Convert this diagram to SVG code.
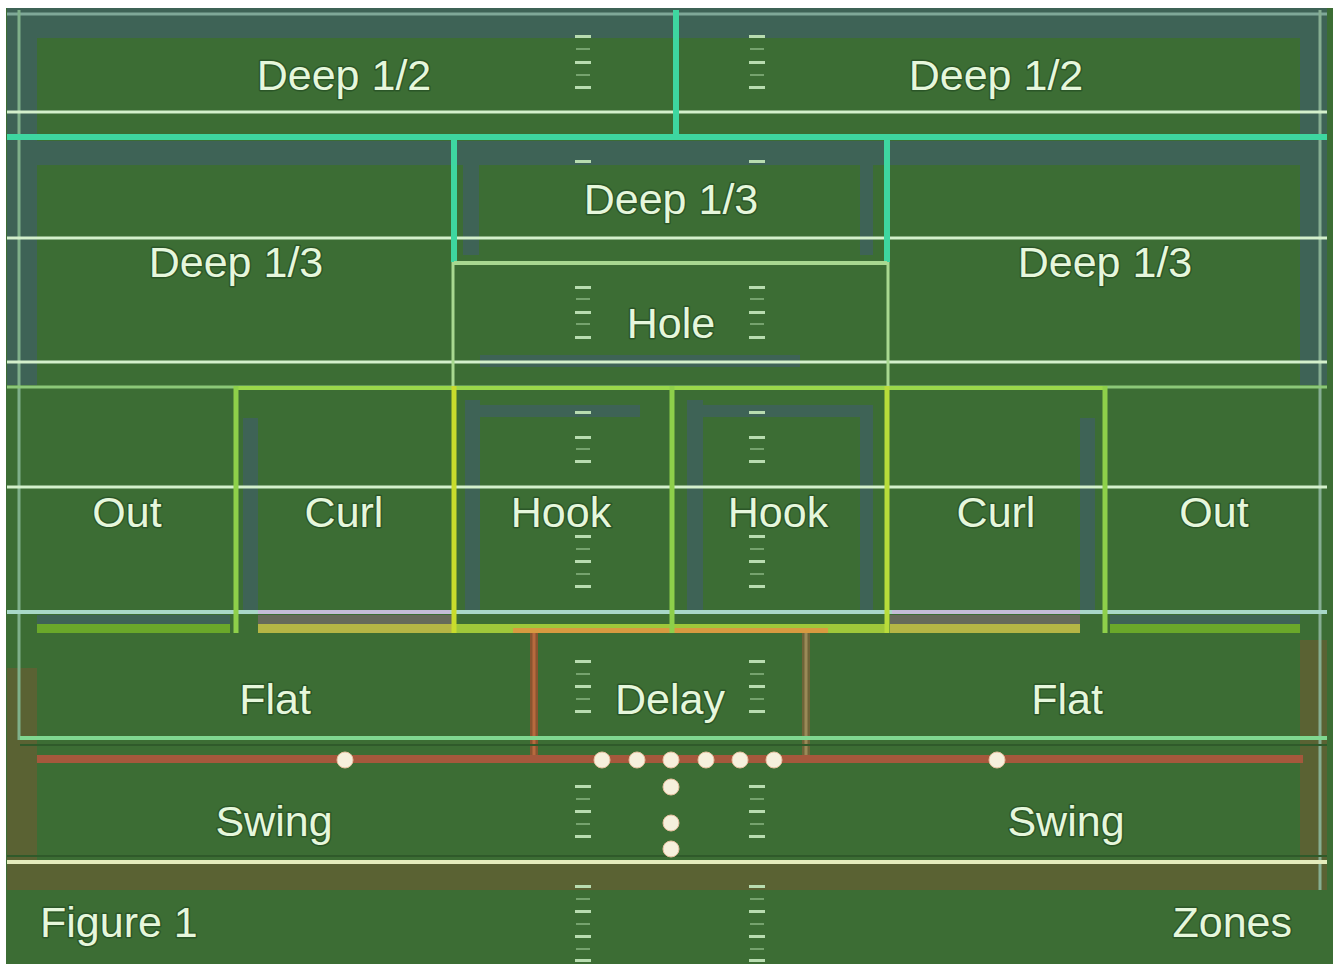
<svg xmlns="http://www.w3.org/2000/svg" width="1333" height="964" viewBox="0 0 1333 964">
<style>
text{font-family:"Liberation Sans",Arial,sans-serif;font-size:43px;fill:#e6f7dc;stroke:#2b5628;stroke-width:3px;paint-order:stroke;stroke-linejoin:round}
.slate{fill:#3e6356}
.olive{fill:#5a6233}
.yard{stroke:#d4f0cc;stroke-width:3;fill:none}
.teal{stroke:#3ed6a0;stroke-width:6;fill:none}
.hash{fill:#b8dcb0}
.minor{fill:#9cc896;opacity:.6}
.pl{fill:#f6f0dc;stroke:#e8c0a0;stroke-width:1}
</style>
<rect width="1333" height="964" fill="#ffffff"/>
<rect x="6" y="8" width="1327" height="956" fill="#3c6d34"/>

<g id="bands">
<rect class="slate" x="7" y="8" width="1320" height="30"/>
<rect class="slate" x="7" y="8" width="30" height="377"/>
<rect class="slate" x="1300" y="8" width="27" height="377"/>
<rect class="slate" x="7" y="141" width="1320" height="24"/>
<rect class="slate" x="463" y="141" width="16" height="114"/>
<rect class="slate" x="860" y="141" width="13" height="114"/>
<rect class="slate" x="480" y="355" width="320" height="12"/>
<rect class="slate" x="243" y="418" width="15" height="194"/>
<rect class="slate" x="465" y="400" width="15" height="212"/>
<rect class="slate" x="480" y="405" width="160" height="12"/>
<rect class="slate" x="687" y="400" width="16" height="212"/>
<rect class="slate" x="703" y="405" width="157" height="12"/>
<rect class="slate" x="860" y="405" width="13" height="207"/>
<rect class="slate" x="1080" y="418" width="15" height="194"/>
<rect class="olive" x="7" y="668" width="30" height="222"/>
<rect class="olive" x="1300" y="640" width="27" height="250"/>
<rect class="olive" x="7" y="864" width="1320" height="26"/>
</g>

<g id="hashes">
<rect class="hash" x="575" y="35" width="16" height="3"/><rect class="hash" x="749" y="35" width="16" height="3"/>
<rect class="hash" x="575" y="61" width="16" height="3"/><rect class="hash" x="749" y="61" width="16" height="3"/>
<rect class="hash" x="575" y="86" width="16" height="3"/><rect class="hash" x="749" y="86" width="16" height="3"/>
<rect class="hash" x="575" y="160" width="16" height="3"/><rect class="hash" x="749" y="160" width="16" height="3"/>
<rect class="hash" x="575" y="286" width="16" height="3"/><rect class="hash" x="749" y="286" width="16" height="3"/>
<rect class="hash" x="575" y="311" width="16" height="3"/><rect class="hash" x="749" y="311" width="16" height="3"/>
<rect class="hash" x="575" y="336" width="16" height="3"/><rect class="hash" x="749" y="336" width="16" height="3"/>
<rect class="hash" x="575" y="411" width="16" height="3"/><rect class="hash" x="749" y="411" width="16" height="3"/>
<rect class="hash" x="575" y="436" width="16" height="3"/><rect class="hash" x="749" y="436" width="16" height="3"/>
<rect class="hash" x="575" y="460" width="16" height="3"/><rect class="hash" x="749" y="460" width="16" height="3"/>
<rect class="hash" x="575" y="535" width="16" height="3"/><rect class="hash" x="749" y="535" width="16" height="3"/>
<rect class="hash" x="575" y="560" width="16" height="3"/><rect class="hash" x="749" y="560" width="16" height="3"/>
<rect class="hash" x="575" y="585" width="16" height="3"/><rect class="hash" x="749" y="585" width="16" height="3"/>
<rect class="hash" x="575" y="660" width="16" height="3"/><rect class="hash" x="749" y="660" width="16" height="3"/>
<rect class="hash" x="575" y="685" width="16" height="3"/><rect class="hash" x="749" y="685" width="16" height="3"/>
<rect class="hash" x="575" y="710" width="16" height="3"/><rect class="hash" x="749" y="710" width="16" height="3"/>
<rect class="hash" x="575" y="785" width="16" height="3"/><rect class="hash" x="749" y="785" width="16" height="3"/>
<rect class="hash" x="575" y="810" width="16" height="3"/><rect class="hash" x="749" y="810" width="16" height="3"/>
<rect class="hash" x="575" y="835" width="16" height="3"/><rect class="hash" x="749" y="835" width="16" height="3"/>
<rect class="hash" x="575" y="885" width="16" height="3"/><rect class="hash" x="749" y="885" width="16" height="3"/>
<rect class="hash" x="575" y="910" width="16" height="3"/><rect class="hash" x="749" y="910" width="16" height="3"/>
<rect class="hash" x="575" y="935" width="16" height="3"/><rect class="hash" x="749" y="935" width="16" height="3"/>
<rect class="hash" x="575" y="959" width="16" height="3"/><rect class="hash" x="749" y="959" width="16" height="3"/>
<rect class="minor" x="576" y="48" width="14" height="2"/><rect class="minor" x="750" y="48" width="14" height="2"/>
<rect class="minor" x="576" y="74" width="14" height="2"/><rect class="minor" x="750" y="74" width="14" height="2"/>
<rect class="minor" x="576" y="298" width="14" height="2"/><rect class="minor" x="750" y="298" width="14" height="2"/>
<rect class="minor" x="576" y="323" width="14" height="2"/><rect class="minor" x="750" y="323" width="14" height="2"/>
<rect class="minor" x="576" y="448" width="14" height="2"/><rect class="minor" x="750" y="448" width="14" height="2"/>
<rect class="minor" x="576" y="548" width="14" height="2"/><rect class="minor" x="750" y="548" width="14" height="2"/>
<rect class="minor" x="576" y="573" width="14" height="2"/><rect class="minor" x="750" y="573" width="14" height="2"/>
<rect class="minor" x="576" y="673" width="14" height="2"/><rect class="minor" x="750" y="673" width="14" height="2"/>
<rect class="minor" x="576" y="698" width="14" height="2"/><rect class="minor" x="750" y="698" width="14" height="2"/>
<rect class="minor" x="576" y="798" width="14" height="2"/><rect class="minor" x="750" y="798" width="14" height="2"/>
<rect class="minor" x="576" y="823" width="14" height="2"/><rect class="minor" x="750" y="823" width="14" height="2"/>
<rect class="minor" x="576" y="898" width="14" height="2"/><rect class="minor" x="750" y="898" width="14" height="2"/>
<rect class="minor" x="576" y="923" width="14" height="2"/><rect class="minor" x="750" y="923" width="14" height="2"/>
<rect class="minor" x="576" y="948" width="14" height="2"/><rect class="minor" x="750" y="948" width="14" height="2"/>
</g>

<g id="connectors">
<line x1="7" y1="14" x2="1327" y2="14" stroke="#7fa898" stroke-width="3"/>
<line x1="19" y1="10" x2="19" y2="740" stroke="#7fb08a" stroke-width="3"/>
<line x1="1320" y1="10" x2="1320" y2="890" stroke="#86ae92" stroke-width="3"/>
<line class="yard" x1="7" y1="112" x2="1327" y2="112"/>
<line class="yard" x1="7" y1="238" x2="1327" y2="238"/>
<line class="yard" x1="7" y1="362" x2="1327" y2="362"/>
<line class="yard" x1="7" y1="487" x2="1327" y2="487" stroke="#b8e6a8"/>
<line x1="7" y1="387" x2="1327" y2="387" stroke="#8cc878" stroke-width="3"/>
<line class="teal" x1="676" y1="10" x2="676" y2="137"/>
<line class="teal" x1="7" y1="137" x2="1327" y2="137"/>
<line class="teal" x1="454" y1="137" x2="454" y2="262"/>
<line class="teal" x1="887" y1="137" x2="887" y2="262"/>
<line x1="454" y1="263" x2="887" y2="263" stroke="#a8d890" stroke-width="4"/>
<line x1="453" y1="262" x2="453" y2="387" stroke="#a8d890" stroke-width="3"/>
<line x1="888" y1="262" x2="888" y2="387" stroke="#a8d890" stroke-width="3"/>
<line x1="236" y1="388" x2="1105" y2="388" stroke="#9ad84a" stroke-width="4"/>
<line x1="7" y1="612" x2="1327" y2="612" stroke="#a8d8c8" stroke-width="4"/>
<line x1="258" y1="612" x2="450" y2="612" stroke="#c4bcd8" stroke-width="4"/>
<line x1="892" y1="612" x2="1080" y2="612" stroke="#c4bcd8" stroke-width="4"/>
<rect x="37" y="615" width="193" height="9" fill="#3e6356"/>
<rect x="258" y="615" width="195" height="9" fill="#66695a"/>
<rect x="890" y="615" width="190" height="9" fill="#66695a"/>
<rect x="1110" y="615" width="190" height="9" fill="#3e6356"/>
<rect x="37" y="624" width="193" height="9" fill="#6aa82a"/>
<rect x="258" y="624" width="195" height="9" fill="#b5b545"/>
<rect x="455" y="624" width="432" height="9" fill="#9fc83a"/>
<rect x="890" y="624" width="190" height="9" fill="#b5b545"/>
<rect x="1110" y="624" width="190" height="9" fill="#6aa82a"/>
<rect x="513" y="628" width="315" height="5" fill="#d89a40"/>
<line x1="236" y1="386" x2="236" y2="633" stroke="#8ed04a" stroke-width="5"/>
<line x1="454" y1="386" x2="454" y2="633" stroke="#c8dc2c" stroke-width="5"/>
<line x1="672" y1="386" x2="672" y2="633" stroke="#8ed04a" stroke-width="5"/>
<line x1="887" y1="386" x2="887" y2="633" stroke="#b8dc3a" stroke-width="5"/>
<line x1="1105" y1="386" x2="1105" y2="633" stroke="#8ed04a" stroke-width="5"/>
<line x1="534" y1="633" x2="534" y2="762" stroke="#8a5530" stroke-width="8"/>
<line x1="534" y1="633" x2="534" y2="762" stroke="#b86a3e" stroke-width="3"/>
<line x1="806" y1="633" x2="806" y2="762" stroke="#6e6438" stroke-width="8"/>
<line x1="806" y1="633" x2="806" y2="762" stroke="#9a8a58" stroke-width="3"/>
<line x1="20" y1="738" x2="1327" y2="738" stroke="#80d890" stroke-width="4"/>
<line x1="20" y1="745" x2="1327" y2="745" stroke="#2f5a2a" stroke-width="2"/>
<line x1="37" y1="759" x2="1303" y2="759" stroke="#a5583c" stroke-width="8"/>
<line x1="7" y1="856" x2="1327" y2="856" stroke="#2f5a2a" stroke-width="2"/>
<line x1="7" y1="862" x2="1327" y2="862" stroke="#e4ecbc" stroke-width="4"/>
</g>

<g id="players">
<circle class="pl" cx="345" cy="760" r="8"/>
<circle class="pl" cx="602" cy="760" r="8"/>
<circle class="pl" cx="637" cy="760" r="8"/>
<circle class="pl" cx="671" cy="760" r="8"/>
<circle class="pl" cx="706" cy="760" r="8"/>
<circle class="pl" cx="740" cy="760" r="8"/>
<circle class="pl" cx="774" cy="760" r="8"/>
<circle class="pl" cx="997" cy="760" r="8"/>
<circle class="pl" cx="671" cy="787" r="8"/>
<circle class="pl" cx="671" cy="823" r="8"/>
<circle class="pl" cx="671" cy="849" r="8"/>
</g>

<g id="deep-half-left"><text x="344" y="90" text-anchor="middle">Deep 1/2</text></g>
<g id="deep-half-right"><text x="996" y="90" text-anchor="middle">Deep 1/2</text></g>
<g id="deep-third-left"><text x="236" y="277" text-anchor="middle">Deep 1/3</text></g>
<g id="deep-third-mid"><text x="671" y="214" text-anchor="middle">Deep 1/3</text></g>
<g id="deep-third-right"><text x="1105" y="277" text-anchor="middle">Deep 1/3</text></g>
<g id="hole"><text x="671" y="338" text-anchor="middle">Hole</text></g>
<g id="out-left"><text x="127" y="527" text-anchor="middle">Out</text></g>
<g id="curl-left"><text x="344" y="527" text-anchor="middle">Curl</text></g>
<g id="hook-left"><text x="561" y="527" text-anchor="middle">Hook</text></g>
<g id="hook-right"><text x="778" y="527" text-anchor="middle">Hook</text></g>
<g id="curl-right"><text x="996" y="527" text-anchor="middle">Curl</text></g>
<g id="out-right"><text x="1214" y="527" text-anchor="middle">Out</text></g>
<g id="flat-left"><text x="275" y="714" text-anchor="middle">Flat</text></g>
<g id="delay"><text x="670" y="714" text-anchor="middle">Delay</text></g>
<g id="flat-right"><text x="1067" y="714" text-anchor="middle">Flat</text></g>
<g id="swing-left"><text x="274" y="836" text-anchor="middle">Swing</text></g>
<g id="swing-right"><text x="1066" y="836" text-anchor="middle">Swing</text></g>
<g id="caption"><text x="40" y="937">Figure 1</text><text x="1292" y="937" text-anchor="end">Zones</text></g>
</svg>
